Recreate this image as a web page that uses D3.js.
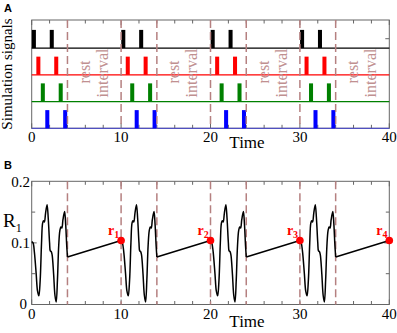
<!DOCTYPE html>
<html>
<head>
<meta charset="utf-8">
<script src="https://cdn.jsdelivr.net/npm/d3@7"></script>
<style>
  body { margin: 0; background: #fff; }
  text { font-family: "Liberation Serif", "Times New Roman", serif; }
</style>
</head>
<body>
<svg id="chart" width="397" height="333"></svg>
<script>
// stimulation cycles (start of each 10-unit period)
const cycleStarts = [0, 10, 20, 30];
const restLines = [4, 10, 14, 20, 24, 30, 34];

// pulse onsets inside one cycle, per channel (row 3 = top)
const channels = ["black", "red", "green", "blue"];
const channelColors = ["#000000", "#ff0000", "#008000", "#0000ff"];
const channelRows = [3, 2, 1, 0];
const pulseOnsets = [[0, 2], [0.5, 2.5], [1, 3], [1.5, 3.5]];
const pulseWidth = 0.45;
const pulseHeight = 0.68;

// R1 during stimulation (time offset in cycle, value)
const stimT = [0, 0.15, 0.3, 0.5, 0.65, 0.8, 0.95, 1.1, 1.22, 1.32, 1.42, 1.55, 1.72, 1.85, 2.0, 2.08, 2.18, 2.28, 2.45, 2.6, 2.74, 2.88, 3.02, 3.15, 3.27, 3.37, 3.5, 3.68, 3.8, 3.92, 4.0];
const stimR = [0.102, 0.1, 0.085, 0.05, 0.022, 0.014, 0.04, 0.1, 0.132, 0.136, 0.134, 0.148, 0.162, 0.14, 0.1, 0.087, 0.086, 0.081, 0.05, 0.015, 0.004, 0.04, 0.095, 0.12, 0.126, 0.124, 0.138, 0.151, 0.13, 0.095, 0.077];
// value at end of each rest interval (r1..r4)
const rTimes = [10, 20, 30, 40];
const rValues = [0.104, 0.104, 0.104, 0.104];
const rLabels = ["1", "2", "3", "4"];

const xTicksMajor = [0, 10, 20, 30, 40];
const yTicksB = [0, 0.1, 0.2];

const svg = d3.select("#chart");
const dashColor = "#b58080";
const frameColor = "#666";

var xA = d3.scaleLinear().domain([0, 40]).range([31.7, 389.3]);
var yA = d3.scaleLinear().domain([0, 4.05]).range([128.3, 20]);
var xB = d3.scaleLinear().domain([0, 40]).range([31.7, 389.3]);
var yB = d3.scaleLinear().domain([0, 0.2]).range([304.5, 181.3]);

// ---------- panel A ----------
var gA = svg.append("g");

// top / bottom minor ticks
function ticksX(g, x, yTop, yBot) {
  d3.range(0, 41, 2).forEach(function (t) {
    var len = t % 10 == 0 ? 5 : 3.5;
    g.append("line").attr("x1", x(t)).attr("x2", x(t))
      .attr("y1", yTop).attr("y2", yTop + len).attr("stroke", frameColor);
    g.append("line").attr("x1", x(t)).attr("x2", x(t))
      .attr("y1", yBot).attr("y2", yBot - len).attr("stroke", frameColor);
  });
}

gA.append("rect")
  .attr("x", xA(0)).attr("y", yA(4.05))
  .attr("width", xA(40) - xA(0)).attr("height", yA(0) - yA(4.05))
  .attr("fill", "none").attr("stroke", frameColor);
ticksX(gA, xA, yA(4.05), yA(0));
// small tick on right side
gA.append("line").attr("x1", xA(40)).attr("x2", xA(40) - 4)
  .attr("y1", yA(3.35)).attr("y2", yA(3.35)).attr("stroke", frameColor);

// baselines of each channel
channels.forEach(function (c, i) {
  gA.append("line")
    .attr("x1", xA(0)).attr("x2", xA(40))
    .attr("y1", yA(channelRows[i])).attr("y2", yA(channelRows[i]))
    .attr("stroke", i == 3 ? "#5050c0" : channelColors[i])
    .attr("stroke-width", 1.2);
});

// pulses
var pulses = [];
channels.forEach(function (c, i) {
  cycleStarts.forEach(function (s) {
    pulseOnsets[i].forEach(function (o) {
      pulses.push({ t: s + o + 0.02, row: channelRows[i], color: channelColors[i] });
    });
  });
});
gA.selectAll("rect.pulse")
  .data(pulses)
  .enter()
  .append("rect")
  .attr("class", "pulse")
  .attr("x", (d) => xA(d.t))
  .attr("width", (d) => xA(d.t + pulseWidth) - xA(d.t))
  .attr("y", (d) => yA(d.row + pulseHeight))
  .attr("height", (d) => yA(d.row) - yA(d.row + pulseHeight))
  .attr("fill", (d) => d.color);

// dashed rest boundaries
gA.selectAll("line.rest")
  .data(restLines)
  .enter()
  .append("line")
  .attr("x1", (d) => xA(d)).attr("x2", (d) => xA(d))
  .attr("y1", yA(4.05)).attr("y2", yA(0))
  .attr("stroke", dashColor).attr("stroke-width", 1.5)
  .attr("stroke-dasharray", "8,4");

// rest interval labels
cycleStarts.forEach(function (s) {
  gA.append("text")
    .attr("transform", "translate(" + xA(s + 5.9) + "," + 72 + ") rotate(-90)")
    .attr("text-anchor", "middle").attr("dominant-baseline", "central")
    .attr("font-size", 16).attr("fill", "#c09090")
    .text("rest");
  gA.append("text")
    .attr("transform", "translate(" + xA(s + 7.9) + "," + 73 + ") rotate(-90)")
    .attr("text-anchor", "middle").attr("dominant-baseline", "central")
    .attr("font-size", 16).attr("fill", "#c09090")
    .text("interval");
});

gA.selectAll("text.xl")
  .data(xTicksMajor)
  .enter()
  .append("text")
  .attr("class", "xl")
  .attr("x", (d) => xA(d)).attr("y", 141.7)
  .attr("text-anchor", "middle").attr("font-size", 15)
  .text((d) => d);

gA.append("text").attr("x", 247).attr("y", 147.5)
  .attr("text-anchor", "middle").attr("font-size", 17).text("Time");

gA.append("text")
  .attr("transform", "translate(12,74) rotate(-90)")
  .attr("text-anchor", "middle").attr("font-size", 15)
  .text("Simulation signals");

svg.append("text").attr("x", 4).attr("y", 12)
  .attr("font-weight", "bold").attr("font-size", 11).style("font-family", "Liberation Sans, Arial, sans-serif")
  .text("A");
svg.append("text").attr("x", 4).attr("y", 168.5)
  .attr("font-weight", "bold").attr("font-size", 11).style("font-family", "Liberation Sans, Arial, sans-serif")
  .text("B");

// ---------- panel B ----------
var gB = svg.append("g");

gB.append("rect")
  .attr("x", xB(0)).attr("y", yB(0.2))
  .attr("width", xB(40) - xB(0)).attr("height", yB(0) - yB(0.2))
  .attr("fill", "none").attr("stroke", frameColor);
ticksX(gB, xB, yB(0.2), yB(0));
[0.05, 0.1, 0.15].forEach(function (v) {
  var len = v == 0.1 ? 5 : 3.5;
  gB.append("line").attr("x1", xB(0)).attr("x2", xB(0) + len)
    .attr("y1", yB(v)).attr("y2", yB(v)).attr("stroke", frameColor);
  gB.append("line").attr("x1", xB(40)).attr("x2", xB(40) - len)
    .attr("y1", yB(v)).attr("y2", yB(v)).attr("stroke", frameColor);
});

gB.selectAll("line.rest")
  .data(restLines)
  .enter()
  .append("line")
  .attr("x1", (d) => xB(d)).attr("x2", (d) => xB(d))
  .attr("y1", yB(0.2)).attr("y2", yB(0))
  .attr("stroke", dashColor).attr("stroke-width", 1.5)
  .attr("stroke-dasharray", "8,4");

// build the R1 trace, one segment per cycle
cycleStarts.forEach(function (s, k) {
  var pts = stimT.map((t, i) => [s + t, stimR[i]]);
  if (k > 0) pts[0] = [s, rValues[k - 1]];
  gB.append("path")
    .datum(pts)
    .attr("fill", "none").attr("stroke", "#000").attr("stroke-width", 1.5)
    .attr("d", d3.line().x((d) => xB(d[0])).y((d) => yB(d[1])).curve(d3.curveCatmullRom.alpha(0.5)));
  gB.append("path")
    .datum([[s + 4, stimR[stimR.length - 1]], [rTimes[k], rValues[k]]])
    .attr("fill", "none").attr("stroke", "#000").attr("stroke-width", 1.5)
    .attr("d", d3.line().x((d) => xB(d[0])).y((d) => yB(d[1])));
});

gB.selectAll("circle.r")
  .data(rTimes)
  .enter()
  .append("circle")
  .attr("class", "r")
  .attr("cx", (d) => xB(d)).attr("cy", (d, i) => yB(rValues[i]))
  .attr("r", 3.8).attr("fill", "#ff0000");

rTimes.forEach(function (t, i) {
  var lab = gB.append("text")
    .attr("x", xB(t) - 13).attr("y", yB(rValues[i]) - 5)
    .attr("fill", "#ff0000").attr("font-weight", "bold").attr("font-size", 14);
  lab.append("tspan").text("r");
  lab.append("tspan").attr("font-size", 10).attr("dy", 3).text(rLabels[i]);
});

gB.selectAll("text.xl")
  .data(xTicksMajor)
  .enter()
  .append("text")
  .attr("class", "xl")
  .attr("x", (d) => xB(d)).attr("y", 319)
  .attr("text-anchor", "middle").attr("font-size", 15)
  .text((d) => d);

gB.selectAll("text.yl")
  .data(yTicksB)
  .enter()
  .append("text")
  .attr("class", "yl")
  .attr("x", (d) => (d == 0 ? 27 : 30)).attr("y", (d) => yB(d) - (d == 0 ? 1 : 0))
  .attr("dy", "0.35em")
  .attr("text-anchor", "end").attr("font-size", 15)
  .text((d) => d);

var rl = gB.append("text").attr("x", 3).attr("y", 227).attr("font-size", 19);
rl.append("tspan").text("R");
rl.append("tspan").attr("font-size", 12).attr("dy", 5).text("1");

gB.append("text").attr("x", 247).attr("y", 327)
  .attr("text-anchor", "middle").attr("font-size", 17).text("Time");
</script>
</body>
</html>
